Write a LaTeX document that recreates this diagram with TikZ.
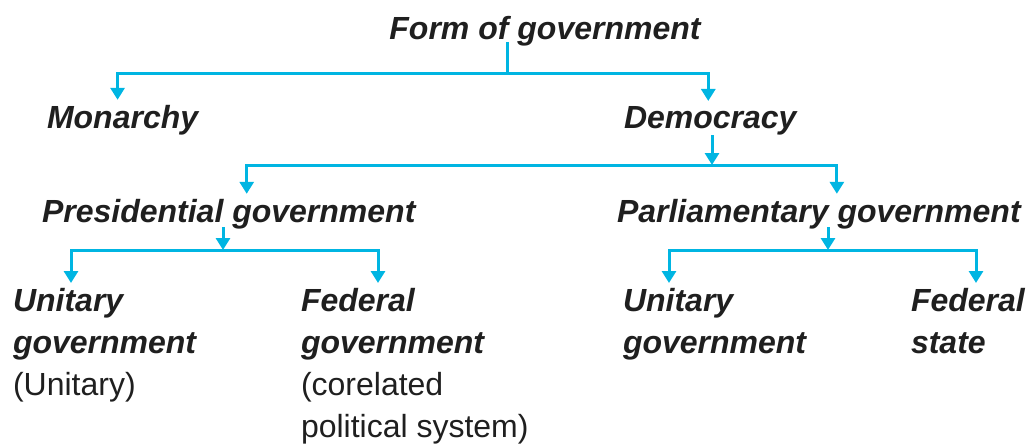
\documentclass[tikz,border=0pt]{standalone}
\usepackage{fontspec}
\setmainfont{Liberation Sans}
\usepackage{xcolor}
\usepackage{tikz}
\usetikzlibrary{positioning,arrows.meta}
\definecolor{treecyan}{RGB}{0,181,226}
\tikzset{
  term/.style={font=\fontsize{32}{42}\selectfont\bfseries\itshape, text=black!88,
    inner sep=0pt, outer sep=5pt},
  leaf/.style={term, anchor=north west, align=left},
  link/.style={treecyan, line width=3pt},
  branch/.style={link, -{Triangle[width=14pt,length=12pt]}},
}

\begin{document}
\begin{tikzpicture}[x=1pt,y=-1pt]
\useasboundingbox (0,0) rectangle (1027,444);

% root and first level
\node[term,anchor=base] (form) at (545,40) {Form of government};
\node[term,anchor=base west] (mon) at (42,128) {Monarchy};
\node[term,anchor=base west] (dem) at (619,128) {Democracy};

% kinds of democracy
\node[term,anchor=base west] (pres) at (37,222) {Presidential government};
\node[term,anchor=base west] (parl) at (612,222) {Parliamentary government};

% leaves
\node[leaf] (uni1) at (8,283) {Unitary\\government\\{\normalfont(Unitary)}};
\node[leaf] (fed1) at (296,283) {Federal\\government\\{\normalfont(corelated}\\{\normalfont political system)}};
\node[leaf] (uni2) at (618,283) {Unitary\\government};
\node[leaf] (fed2) at (906,283) {Federal\\state};

% junctions
\coordinate (j0) at (507,73);
\coordinate (j1) at (712,165);
\coordinate (j2) at (223,250);
\coordinate (j3) at (828,250);

\draw[link] ([yshift=-2pt]form.base -| j0) -- (j0);
\draw[branch] (j0) -| ([xshift=-5pt]mon.north);
\draw[branch] (j0) -| ([xshift=-2pt]dem.north);

\draw[branch] ([yshift=-7pt]dem.base -| j1) -- (j1);
\draw[branch] (j1) -| ([xshift=18pt]pres.north);
\draw[branch] (j1) -| ([xshift=18pt]parl.north);

\draw[branch] ([yshift=-5pt]pres.base -| j2) -- (j2);
\draw[branch] (j2) -| ([xshift=63pt]uni1.north west);
\draw[branch] (j2) -| ([xshift=82pt]fed1.north west);

\draw[branch] ([yshift=-5pt]parl.base -| j3) -- (j3);
\draw[branch] (j3) -| ([xshift=51pt]uni2.north west);
\draw[branch] (j3) -| ([xshift=70pt]fed2.north west);
\end{tikzpicture}
\end{document}
